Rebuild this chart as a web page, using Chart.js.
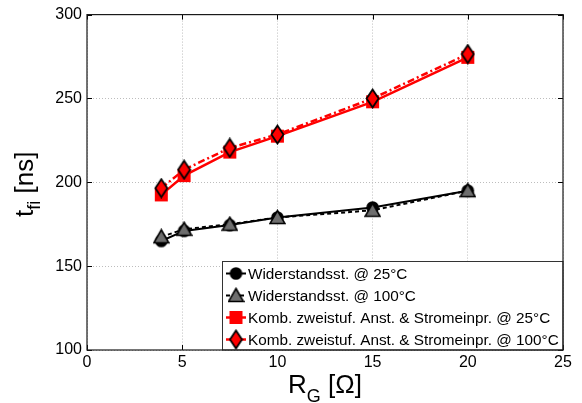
<!DOCTYPE html>
<html>
<head>
<meta charset="utf-8">
<script src="https://cdn.jsdelivr.net/npm/chart.js@4.4.0/dist/chart.umd.min.js"></script>
<style>
  html, body { margin: 0; padding: 0; background: #fff; }
  canvas { display: block; }
</style>
</head>
<body>
<canvas id="chart" width="582" height="403"></canvas>
<script>
// gate resistance R_G [Ohm]
const rg = [3.9, 5.1, 7.5, 10, 15, 20];
// fall time t_fi [ns]
const wid25 = [165, 171, 174.5, 179, 185, 195];
const wid100 = [167.5, 172, 175, 179, 183.3, 195];
const komb25 = [192.5, 204, 218, 227.5, 248, 274.5];
const komb100 = [196.5, 207.5, 220.5, 228.5, 250, 276.5];

const labels = [
  'Widerstandsst. @ 25°C',
  'Widerstandsst. @ 100°C',
  'Komb. zweistuf. Anst. & Stromeinpr. @ 25°C',
  'Komb. zweistuf. Anst. & Stromeinpr. @ 100°C',
];

const FONT = 'Arial, "Liberation Sans", Helvetica, sans-serif';
const RED = '#ff0000';

// marker images (MATLAB-like markers)
function marker(kind) {
  const c = document.createElement('canvas');
  const w = kind === 'diamond' ? 15 : 17;
  const h = kind === 'diamond' ? 21 : 17;
  c.width = w; c.height = h;
  const g = c.getContext('2d');
  const cx = w / 2, cy = h / 2;
  g.lineJoin = 'miter';
  g.beginPath();
  if (kind === 'circle') {
    g.arc(cx, cy, 6.3, 0, Math.PI * 2);
    g.fillStyle = '#000';
    g.fill();
  } else if (kind === 'triangle') {
    g.moveTo(cx, cy - 7);
    g.lineTo(cx + 7.5, cy + 6);
    g.lineTo(cx - 7.5, cy + 6);
    g.closePath();
    g.fillStyle = '#6e6e6e';
    g.fill();
    g.lineWidth = 1.6;
    g.strokeStyle = '#000';
    g.stroke();
  } else if (kind === 'square') {
    g.rect(cx - 6.5, cy - 6.5, 13, 13);
    g.fillStyle = RED;
    g.fill();
  } else {
    g.moveTo(cx, cy - 9);
    g.lineTo(cx + 6, cy);
    g.lineTo(cx, cy + 9);
    g.lineTo(cx - 6, cy);
    g.closePath();
    g.fillStyle = RED;
    g.fill();
    g.lineWidth = 1.8;
    g.strokeStyle = '#000';
    g.stroke();
  }
  return c;
}

const styles = [
  { color: '#000', width: 2, dash: [], pt: marker('circle') },
  { color: '#000', width: 2, dash: [4, 3], pt: marker('triangle') },
  { color: RED, width: 2.5, dash: [], pt: marker('square') },
  { color: RED, width: 2.5, dash: [7, 3, 2, 3], pt: marker('diamond') },
];

const series = [wid25, wid100, komb25, komb100];
const orders = [3, 2, 1, 0];

const datasets = series.map((ys, i) => ({
  label: labels[i],
  data: rg.map((x, j) => ({ x: x, y: ys[j] })),
  borderColor: styles[i].color,
  borderWidth: styles[i].width,
  borderDash: styles[i].dash,
  pointStyle: styles[i].pt,
  pointRadius: 8,
  tension: 0,
  fill: false,
  order: orders[i],
}));

const extras = {
  id: 'extras',
  afterDraw(chart) {
    const ctx = chart.ctx;
    const a = chart.chartArea;
    const xs = chart.scales.x, ys = chart.scales.y;
    ctx.save();

    // inner ticks on all four sides
    ctx.strokeStyle = '#000';
    ctx.lineWidth = 1;
    xs.ticks.forEach(t => {
      const px = Math.round(xs.getPixelForValue(t.value)) + 0.5;
      ctx.beginPath();
      ctx.moveTo(px, a.bottom); ctx.lineTo(px, a.bottom - 5);
      ctx.moveTo(px, a.top); ctx.lineTo(px, a.top + 5);
      ctx.stroke();
    });
    ys.ticks.forEach(t => {
      const py = Math.round(ys.getPixelForValue(t.value)) + 0.5;
      ctx.beginPath();
      ctx.moveTo(a.left, py); ctx.lineTo(a.left + 5, py);
      ctx.moveTo(a.right, py); ctx.lineTo(a.right - 5, py);
      ctx.stroke();
    });

    // legend box inside plot
    const lx = 222.5, ly = 261.5, lr = a.right, lb = a.bottom;
    ctx.fillStyle = '#fff';
    ctx.fillRect(lx, ly, lr - lx, lb - ly);
    ctx.strokeStyle = '#333';
    ctx.lineWidth = 1;
    ctx.strokeRect(lx, ly, lr - lx, lb - ly);
    ctx.font = '15.3px ' + FONT;
    ctx.textBaseline = 'middle';
    ctx.textAlign = 'left';
    labels.forEach((lab, i) => {
      const ry = 273.5 + i * 22;
      const s = styles[i];
      ctx.save();
      ctx.strokeStyle = s.color;
      ctx.lineWidth = s.width;
      ctx.setLineDash(s.dash);
      ctx.beginPath();
      ctx.moveTo(226, ry); ctx.lineTo(246, ry);
      ctx.stroke();
      ctx.restore();
      ctx.drawImage(s.pt, 236 - s.pt.width / 2, ry - s.pt.height / 2);
      ctx.fillStyle = '#000';
      ctx.fillText(lab, 248, ry + 1);
    });

    // frame
    ctx.strokeStyle = '#1a1a1a';
    ctx.lineWidth = 1.2;
    ctx.strokeRect(a.left, a.top, a.right - a.left, a.bottom - a.top);

    // x axis title: R_G [Ω]
    ctx.fillStyle = '#000';
    ctx.textBaseline = 'alphabetic';
    const big = '26px ' + FONT, small = '18px ' + FONT;
    ctx.font = big;
    const wR = ctx.measureText('R').width;
    const wRest = ctx.measureText(' [\u03A9]').width;
    ctx.font = small;
    const wG = ctx.measureText('G').width;
    let x0 = (a.left + a.right) / 2 - (wR + wG + wRest) / 2;
    const by = 393;
    ctx.font = big; ctx.fillText('R', x0, by);
    ctx.font = small; ctx.fillText('G', x0 + wR, by + 9);
    ctx.font = big; ctx.fillText(' [\u03A9]', x0 + wR + wG, by);

    // y axis title: t_fi [ns]
    ctx.save();
    ctx.translate(33, (a.top + a.bottom) / 2 + 2);
    ctx.rotate(-Math.PI / 2);
    ctx.font = big;
    const wt = ctx.measureText('t').width;
    const wns = ctx.measureText(' [ns]').width;
    ctx.font = small;
    const wfi = ctx.measureText('fi').width;
    const y0 = -(wt + wfi + wns) / 2;
    ctx.font = big; ctx.fillText('t', y0, 0);
    ctx.font = small; ctx.fillText('fi', y0 + wt, 7);
    ctx.font = big; ctx.fillText(' [ns]', y0 + wt + wfi, 0);
    ctx.restore();

    ctx.restore();
  }
};

const tickFont = { family: FONT, size: 16 };

new Chart(document.getElementById('chart'), {
  type: 'line',
  data: { datasets },
  options: {
    responsive: false,
    animation: false,
    events: [],
    layout: { padding: { left: 0, top: 14, right: 19, bottom: 0 } },
    plugins: { legend: { display: false }, tooltip: { enabled: false } },
    scales: {
      x: {
        type: 'linear',
        min: 0, max: 25,
        ticks: { stepSize: 5, font: tickFont, color: '#000', padding: 3, maxRotation: 0 },
        grid: { color: '#bdbdbd', lineWidth: 1, drawTicks: false },
        border: { display: false, dash: [1, 2] },
        afterFit: s => { s.height = 53; },
      },
      y: {
        min: 100, max: 300,
        ticks: { stepSize: 50, font: tickFont, color: '#000', padding: 5 },
        grid: { color: '#bdbdbd', lineWidth: 1, drawTicks: false },
        border: { display: false, dash: [1, 2] },
        afterFit: s => { s.width = 87; },
      },
    },
  },
  plugins: [extras],
});
</script>
</body>
</html>
